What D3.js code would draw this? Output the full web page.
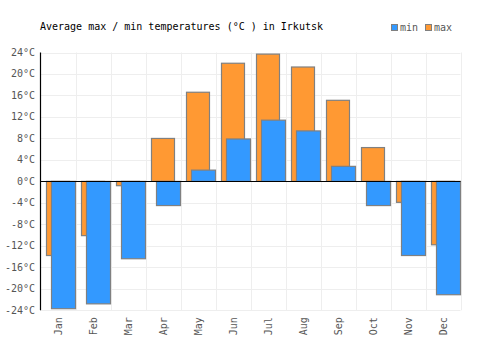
<!DOCTYPE html>
<html>
<head>
<meta charset="utf-8">
<script src="https://cdn.jsdelivr.net/npm/d3@7"></script>
<style>
  body { margin: 0; background: #fff; }
  text { font-family: "DejaVu Sans Mono", monospace; font-size: 10px; }
</style>
</head>
<body>
<script>
// data
const months = ["Jan","Feb","Mar","Apr","May","Jun","Jul","Aug","Sep","Oct","Nov","Dec"];
const maxTemps = [-13.8, -10.1, -0.8, 8.0, 16.6, 22.0, 23.7, 21.3, 15.1, 6.3, -3.9, -11.8];
const minTemps = [-23.7, -22.8, -14.4, -4.5, 2.1, 7.9, 11.4, 9.4, 2.8, -4.5, -13.8, -21.1];
const yTicks = [-24, -20, -16, -12, -8, -4, 0, 4, 8, 12, 16, 20, 24];

const margin = {top: 52.5, left: 40.5, right: 39.5, bottom: 40.5};
const W = 500, H = 350;

const svg = d3.select("body").append("svg")
    .attr("width", W)
    .attr("height", H);

const x = d3.scaleBand()
    .domain(months)
    .range([margin.left, W - margin.right]);

const y = d3.scaleLinear()
    .domain([-24, 24])
    .range([H - margin.bottom + 0.8, margin.top]);

// grid
svg.append("g").selectAll("line.h")
    .data(yTicks)
    .enter().append("line")
    .attr("x1", margin.left).attr("x2", W - margin.right)
    .attr("y1", d => Math.round(y(d)) + 0.5).attr("y2", d => Math.round(y(d)) + 0.5)
    .attr("stroke", "#eeeeee");

svg.append("g").selectAll("line.v")
    .data(months.slice(1).concat(["end"]))
    .enter().append("line")
    .attr("x1", (d, i) => Math.round(margin.left + x.bandwidth() * (i + 1)) + 0.5)
    .attr("x2", (d, i) => Math.round(margin.left + x.bandwidth() * (i + 1)) + 0.5)
    .attr("y1", y(24)).attr("y2", y(-24))
    .attr("stroke", "#eeeeee");

// bars: max behind, min in front
const bw = x.bandwidth();
svg.append("g").selectAll("rect")
    .data(maxTemps)
    .enter().append("rect")
    .attr("x", (d, i) => Math.round(x(months[i]) + 5.5) + 0.5)
    .attr("width", 23)
    .attr("y", d => y(Math.max(0, d)))
    .attr("height", d => Math.abs(y(d) - y(0)))
    .attr("fill", "#ff9933")
    .attr("stroke", "#808080")
    .attr("stroke-width", 1.2);

svg.append("g").selectAll("rect")
    .data(minTemps)
    .enter().append("rect")
    .attr("x", (d, i) => Math.round(x(months[i]) + 10.5) + 0.5)
    .attr("width", 24)
    .attr("y", d => y(Math.max(0, d)))
    .attr("height", d => Math.abs(y(d) - y(0)))
    .attr("fill", "#3399ff")
    .attr("stroke", "#808080")
    .attr("stroke-width", 1.2);

// axes lines
svg.append("line")
    .attr("x1", margin.left).attr("x2", margin.left)
    .attr("y1", y(24)).attr("y2", y(-24))
    .attr("stroke", "#000").attr("stroke-width", 1.2);
svg.append("line")
    .attr("x1", margin.left).attr("x2", W - margin.right)
    .attr("y1", Math.round(y(0)) + 0.5).attr("y2", Math.round(y(0)) + 0.5)
    .attr("stroke", "#000").attr("stroke-width", 1.2);

// y labels
svg.append("g").selectAll("text")
    .data(yTicks)
    .enter().append("text")
    .attr("x", 35)
    .attr("y", d => y(d) + 3.5)
    .attr("text-anchor", "end")
    .attr("fill", "#555")
    .text(d => d + "°C");

// x labels
svg.append("g").selectAll("text")
    .data(months)
    .enter().append("text")
    .attr("transform", d => "translate(" + (x(d) + bw / 2 + 4) + "," + (y(-24) + 7) + ") rotate(-90)")
    .attr("text-anchor", "end")
    .attr("fill", "#555")
    .text(d => d);

// title
svg.append("text")
    .attr("x", 40)
    .attr("y", 30)
    .attr("fill", "#000")
    .text("Average max / min temperatures (°C ) in Irkutsk");

// legend
const legend = [{name: "min", color: "#3399ff", x: 391}, {name: "max", color: "#ff9933", x: 425}];
const lg = svg.append("g").selectAll("g")
    .data(legend)
    .enter().append("g");
lg.append("rect")
    .attr("x", d => d.x + 0.5).attr("y", 24.5)
    .attr("width", 6).attr("height", 6)
    .attr("fill", d => d.color)
    .attr("stroke", "#808080");
lg.append("text")
    .attr("x", d => d.x + 9)
    .attr("y", 31)
    .attr("fill", "#555")
    .text(d => d.name);
</script>
</body>
</html>
